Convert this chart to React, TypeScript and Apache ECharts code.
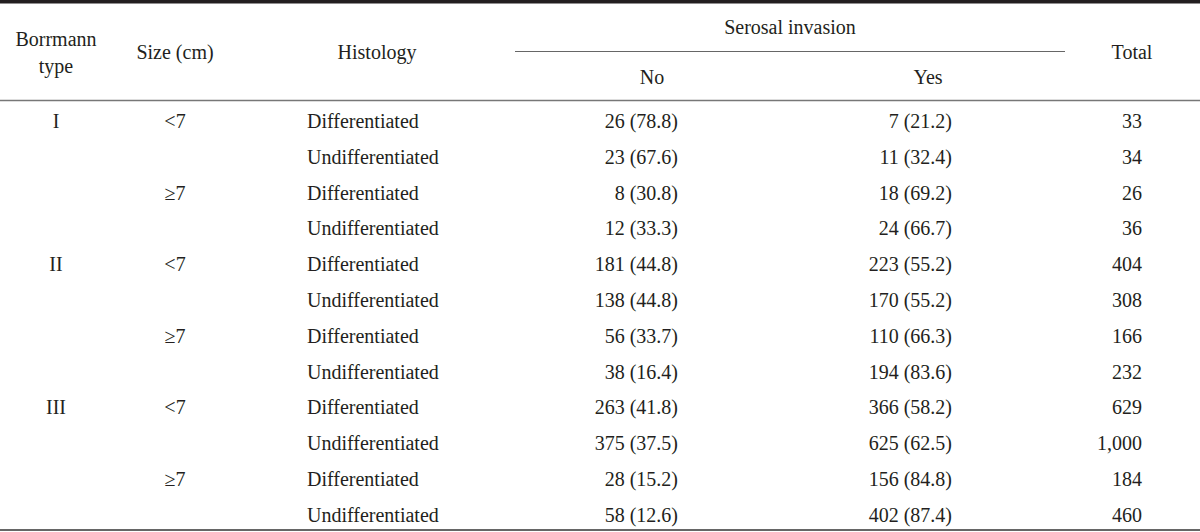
import React, { useEffect, useRef } from "react";
import * as echarts from "echarts";

const borrmannTypes = ["I", "", "", "", "II", "", "", "", "III", "", "", ""];
const sizes = ["<7", "", "≥7", "", "<7", "", "≥7", "", "<7", "", "≥7", ""];
const histology = [
  "Differentiated", "Undifferentiated", "Differentiated", "Undifferentiated",
  "Differentiated", "Undifferentiated", "Differentiated", "Undifferentiated",
  "Differentiated", "Undifferentiated", "Differentiated", "Undifferentiated",
];
const noCounts = [26, 23, 8, 12, 181, 138, 56, 38, 263, 375, 28, 58];
const noPct = ["78.8", "67.6", "30.8", "33.3", "44.8", "44.8", "33.7", "16.4", "41.8", "37.5", "15.2", "12.6"];
const yesCounts = [7, 11, 18, 24, 223, 170, 110, 194, 366, 625, 156, 402];
const yesPct = ["21.2", "32.4", "69.2", "66.7", "55.2", "55.2", "66.3", "83.6", "58.2", "62.5", "84.8", "87.4"];
const totals = ["33", "34", "26", "36", "404", "308", "166", "232", "629", "1,000", "184", "460"];

const FONT = "'Liberation Serif', 'DejaVu Serif', serif";
const COLOR = "#231f20";

export default function App() {
  const ref = useRef<HTMLDivElement>(null);
  useEffect(() => {
    if (!ref.current) return;
    const chart = echarts.init(ref.current, undefined, { renderer: "svg" });
    const els: any[] = [];
    const txt = (x: number, y: number, text: string, align: string) => ({
      type: "text",
      x,
      y,
      style: { text, fill: COLOR, font: `20px ${FONT}`, align, verticalAlign: "middle" },
    });
    const line = (x1: number, y1: number, x2: number, y2: number, w: number, c: string) => ({
      type: "line",
      shape: { x1, y1, x2, y2 },
      style: { stroke: c, lineWidth: w },
    });
    // rules
    els.push({ type: "rect", shape: { x: 0, y: 0, width: 1200, height: 3.5 }, style: { fill: COLOR } });
    els.push(line(515, 51.5, 1065, 51.5, 1, "#666"));
    els.push(line(0, 100.5, 1200, 100.5, 1.5, "#777"));
    els.push(line(0, 530, 1200, 530, 2, "#666"));
    // header
    els.push(txt(56, 39, "Borrmann", "center"));
    els.push(txt(56, 66, "type", "center"));
    els.push(txt(175, 52, "Size (cm)", "center"));
    els.push(txt(377, 52, "Histology", "center"));
    els.push(txt(790, 27, "Serosal invasion", "center"));
    els.push(txt(652, 77, "No", "center"));
    els.push(txt(928, 77, "Yes", "center"));
    els.push(txt(1132, 52, "Total", "center"));
    // body
    const y0 = 121;
    const dy = 35.8;
    for (let i = 0; i < histology.length; i++) {
      const y = y0 + i * dy;
      if (borrmannTypes[i]) els.push(txt(56, y, borrmannTypes[i], "center"));
      if (sizes[i]) els.push(txt(175, y, sizes[i], "center"));
      els.push(txt(307, y, histology[i], "left"));
      els.push(txt(678, y, `${noCounts[i]} (${noPct[i]})`, "right"));
      els.push(txt(952, y, `${yesCounts[i]} (${yesPct[i]})`, "right"));
      els.push(txt(1142, y, totals[i], "right"));
    }
    chart.setOption({ animation: false, backgroundColor: "#fff", graphic: { elements: els } });
    return () => chart.dispose();
  }, []);
  return (
    <div
      ref={ref}
      style={{ position: "fixed", left: 0, top: 0, width: 1200, height: 532, background: "#fff" }}
    />
  );
}
